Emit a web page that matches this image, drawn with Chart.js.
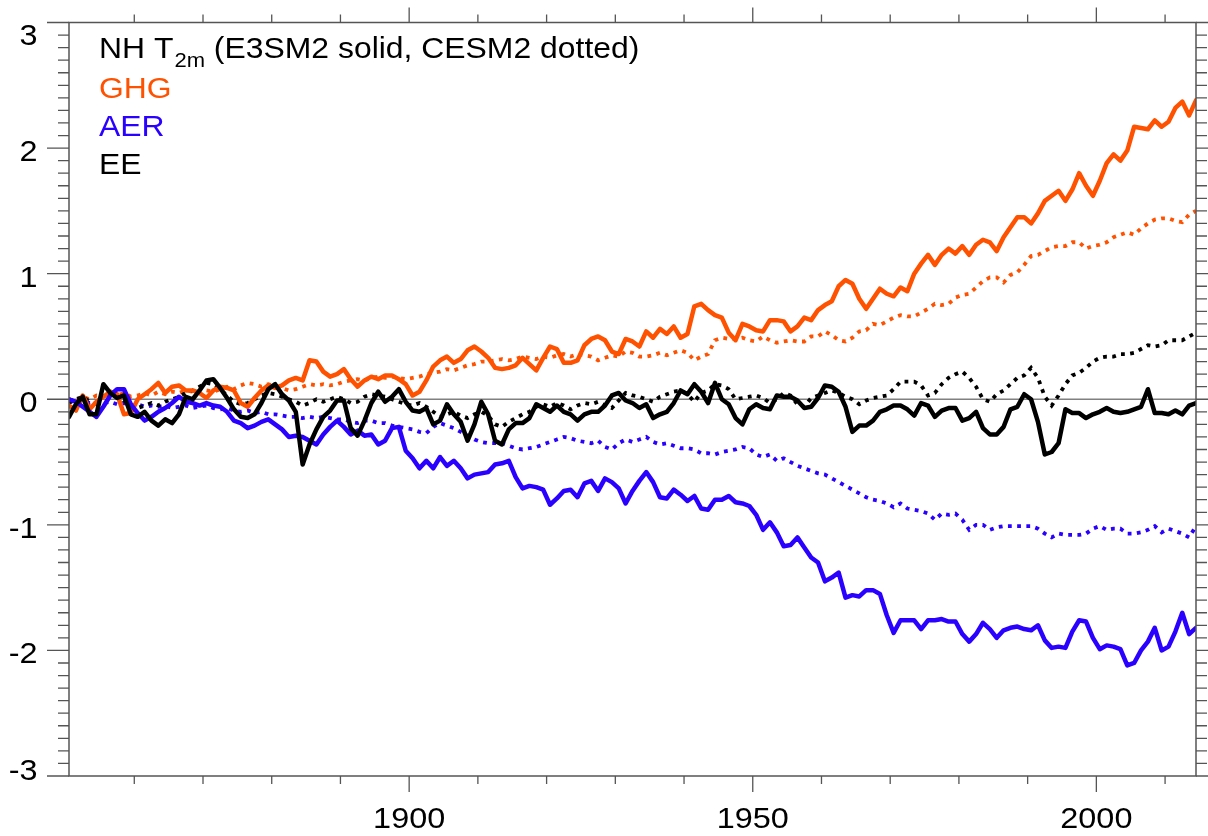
<!DOCTYPE html>
<html>
<head>
<meta charset="utf-8">
<script src="https://cdn.jsdelivr.net/npm/chart.js@4/dist/chart.umd.min.js"></script>
<style>
  html, body { margin: 0; padding: 0; background: #ffffff; }
  #wrap { width: 1208px; height: 836px; }
</style>
</head>
<body>
<div id="wrap"><canvas id="c" width="1208" height="836"></canvas></div>
<script>
// Northern-hemisphere 2 m temperature anomaly (K), annual means centred mid-year, 1850-2014
const FIRST_YEAR = 1850.5;

// E3SM2 single-forcing runs (solid)
const ghgE3SM = [
  -0.05, -0.09, 0.03, -0.08, -0.02, 0.02, 0.06, 0.04, -0.12, -0.11,
  0.00, 0.04, 0.08, 0.13, 0.05, 0.10, 0.11, 0.07, 0.07, 0.05,
  0.01, 0.07, 0.10, 0.09, 0.07, -0.03, -0.06, 0.01, 0.07, 0.11,
  0.09, 0.11, 0.15, 0.17, 0.15, 0.31, 0.30, 0.22, 0.18, 0.20,
  0.24, 0.16, 0.10, 0.15, 0.18, 0.16, 0.19, 0.19, 0.16, 0.12,
  0.03, 0.06, 0.15, 0.26, 0.31, 0.34, 0.29, 0.32, 0.39, 0.42,
  0.38, 0.33, 0.25, 0.24, 0.25, 0.27, 0.33, 0.28, 0.23, 0.33,
  0.42, 0.40, 0.29, 0.29, 0.31, 0.43, 0.48, 0.50, 0.47, 0.38,
  0.36, 0.48, 0.46, 0.42, 0.54, 0.49, 0.56, 0.52, 0.58, 0.49,
  0.52, 0.74, 0.76, 0.71, 0.67, 0.65, 0.53, 0.47, 0.60, 0.58,
  0.55, 0.54, 0.63, 0.63, 0.62, 0.54, 0.58, 0.65, 0.63, 0.71,
  0.75, 0.78, 0.90, 0.95, 0.92, 0.80, 0.72, 0.80, 0.88, 0.84,
  0.82, 0.89, 0.86, 1.00, 1.08, 1.15, 1.07, 1.15, 1.20, 1.16,
  1.22, 1.15, 1.23, 1.27, 1.25, 1.18, 1.29, 1.37, 1.45, 1.45,
  1.40, 1.48, 1.58, 1.62, 1.66, 1.58, 1.67, 1.80, 1.70, 1.62,
  1.74, 1.88, 1.95, 1.90, 1.98, 2.17, 2.16, 2.15, 2.22, 2.17,
  2.21, 2.32, 2.37, 2.26, 2.38
];
const aerE3SM = [
  0.00, -0.02, -0.06, -0.10, -0.14, -0.06, 0.03, 0.08, 0.08, -0.04,
  -0.11, -0.17, -0.14, -0.10, -0.07, -0.03, 0.02, -0.02, -0.03, -0.05,
  -0.03, -0.05, -0.06, -0.10, -0.17, -0.19, -0.23, -0.21, -0.18, -0.16,
  -0.20, -0.24, -0.30, -0.29, -0.30, -0.33, -0.36, -0.28, -0.22, -0.17,
  -0.22, -0.28, -0.25, -0.29, -0.28, -0.36, -0.33, -0.23, -0.22, -0.41,
  -0.47, -0.55, -0.49, -0.55, -0.46, -0.53, -0.49, -0.55, -0.63, -0.60,
  -0.59, -0.58, -0.52, -0.51, -0.49, -0.62, -0.71, -0.69, -0.70, -0.72,
  -0.84, -0.79, -0.73, -0.72, -0.78, -0.67, -0.65, -0.73, -0.63, -0.66,
  -0.71, -0.83, -0.73, -0.65, -0.58, -0.66, -0.78, -0.79, -0.72, -0.76,
  -0.81, -0.77, -0.87, -0.88, -0.80, -0.80, -0.77, -0.82, -0.83, -0.85,
  -0.92, -1.04, -0.98, -1.06, -1.17, -1.16, -1.10, -1.18, -1.26, -1.30,
  -1.45, -1.42, -1.38, -1.58, -1.56, -1.57, -1.52, -1.52, -1.55, -1.72,
  -1.86, -1.76, -1.76, -1.76, -1.83, -1.76, -1.76, -1.75, -1.77, -1.77,
  -1.87, -1.93, -1.87, -1.78, -1.83, -1.90, -1.84, -1.82, -1.81, -1.83,
  -1.84, -1.80, -1.92, -1.98, -1.97, -1.98, -1.85, -1.76, -1.77, -1.90,
  -1.99, -1.96, -1.97, -1.99, -2.12, -2.10, -2.00, -1.93, -1.82, -2.00,
  -1.97, -1.85, -1.70, -1.87, -1.82
];
const eeE3SM = [
  -0.14, -0.04, 0.02, -0.12, -0.12, 0.12, 0.05, 0.01, 0.03, -0.12,
  -0.14, -0.10, -0.17, -0.21, -0.16, -0.19, -0.12, 0.02, 0.00, 0.07,
  0.15, 0.16, 0.09, 0.01, -0.08, -0.14, -0.15, -0.12, -0.03, 0.08,
  0.12, 0.04, -0.01, -0.10, -0.52, -0.36, -0.24, -0.14, -0.09, -0.01,
  -0.01, -0.23, -0.29, -0.17, -0.03, 0.06, -0.02, 0.02, 0.08, -0.02,
  -0.09, -0.10, -0.07, -0.20, -0.17, -0.04, -0.12, -0.18, -0.33, -0.20,
  -0.02, -0.12, -0.33, -0.36, -0.24, -0.19, -0.19, -0.15, -0.04, -0.07,
  -0.10, -0.05, -0.10, -0.12, -0.17, -0.12, -0.10, -0.10, -0.05, 0.03,
  0.05, -0.01, -0.03, -0.07, -0.04, -0.15, -0.12, -0.10, -0.03, 0.07,
  0.04, 0.12, 0.06, -0.03, 0.13, 0.00, -0.04, -0.15, -0.20, -0.08,
  -0.04, -0.07, -0.08, 0.03, 0.02, 0.02, -0.01, -0.07, -0.06, 0.01,
  0.11, 0.10, 0.06, -0.06, -0.26, -0.21, -0.21, -0.17, -0.10, -0.08,
  -0.05, -0.05, -0.08, -0.13, -0.03, -0.05, -0.14, -0.09, -0.07, -0.07,
  -0.17, -0.15, -0.10, -0.23, -0.28, -0.28, -0.22, -0.08, -0.06, 0.04,
  0.00, -0.18, -0.44, -0.42, -0.35, -0.08, -0.11, -0.11, -0.15, -0.12,
  -0.10, -0.07, -0.10, -0.11, -0.10, -0.08, -0.06, 0.08, -0.11, -0.11,
  -0.12, -0.09, -0.12, -0.05, -0.03
];

// CESM2 single-forcing runs (dotted)
const ghgCESM = [
  0.00, -0.02, 0.02, 0.00, 0.03, 0.02, 0.04, 0.03, 0.05, 0.02,
  0.03, 0.05, 0.03, 0.06, 0.04, 0.06, 0.05, 0.07, 0.06, 0.05,
  0.07, 0.06, 0.08, 0.10, 0.08, 0.11, 0.13, 0.12, 0.10, 0.12,
  0.10, 0.09, 0.07, 0.08, 0.10, 0.12, 0.11, 0.12, 0.11, 0.12,
  0.14, 0.15, 0.16, 0.15, 0.17, 0.18, 0.17, 0.18, 0.17, 0.16,
  0.17, 0.18, 0.20, 0.21, 0.22, 0.24, 0.23, 0.25, 0.27, 0.28,
  0.30, 0.30, 0.31, 0.32, 0.31, 0.32, 0.34, 0.33, 0.32, 0.34,
  0.33, 0.35, 0.36, 0.34, 0.36, 0.35, 0.34, 0.31, 0.33, 0.35,
  0.34, 0.38, 0.37, 0.34, 0.34, 0.35, 0.37, 0.35, 0.37, 0.39,
  0.37, 0.31, 0.34, 0.36, 0.47, 0.49, 0.48, 0.48, 0.49, 0.47,
  0.46, 0.50, 0.47, 0.45, 0.46, 0.47, 0.46, 0.46, 0.50, 0.50,
  0.54, 0.51, 0.47, 0.46, 0.49, 0.54, 0.55, 0.60, 0.59, 0.62,
  0.65, 0.67, 0.66, 0.66, 0.69, 0.72, 0.76, 0.75, 0.76, 0.81,
  0.83, 0.84, 0.89, 0.94, 0.97, 0.97, 0.93, 0.99, 1.01, 1.07,
  1.14, 1.15, 1.18, 1.21, 1.22, 1.22, 1.25, 1.25, 1.20, 1.22,
  1.23, 1.25, 1.29, 1.31, 1.33, 1.31, 1.36, 1.40, 1.43, 1.44,
  1.44, 1.42, 1.41, 1.47, 1.50
];
const aerCESM = [
  0.00, -0.02, -0.01, -0.03, -0.02, -0.03, -0.02, -0.04, -0.03, -0.05,
  -0.04, -0.06, -0.05, -0.06, -0.05, -0.07, -0.06, -0.05, -0.07, -0.06,
  -0.05, -0.07, -0.08, -0.07, -0.09, -0.10, -0.09, -0.11, -0.10, -0.12,
  -0.12, -0.13, -0.14, -0.14, -0.15, -0.14, -0.15, -0.14, -0.15, -0.16,
  -0.16, -0.18, -0.19, -0.17, -0.17, -0.19, -0.19, -0.21, -0.22, -0.23,
  -0.24, -0.26, -0.27, -0.22, -0.19, -0.21, -0.23, -0.26, -0.29, -0.32,
  -0.34, -0.35, -0.35, -0.35, -0.37, -0.39, -0.40, -0.39, -0.38, -0.36,
  -0.34, -0.32, -0.30, -0.31, -0.33, -0.34, -0.35, -0.33, -0.38, -0.40,
  -0.35, -0.32, -0.34, -0.32, -0.30, -0.34, -0.36, -0.35, -0.37, -0.39,
  -0.39, -0.40, -0.43, -0.43, -0.44, -0.42, -0.41, -0.40, -0.38, -0.39,
  -0.44, -0.46, -0.44, -0.49, -0.47, -0.50, -0.53, -0.55, -0.57, -0.59,
  -0.60, -0.63, -0.66, -0.69, -0.72, -0.75, -0.78, -0.80, -0.81, -0.83,
  -0.86, -0.83, -0.87, -0.88, -0.89, -0.91, -0.96, -0.91, -0.92, -0.91,
  -0.96, -1.04, -1.00, -1.00, -1.04, -1.02, -1.01, -1.01, -1.01, -1.01,
  -1.01, -1.03, -1.07, -1.10, -1.07, -1.08, -1.08, -1.08, -1.07, -1.03,
  -1.01, -1.04, -1.03, -1.03, -1.07, -1.07, -1.06, -1.04, -1.01, -1.06,
  -1.03, -1.05, -1.07, -1.10, -1.01
];
const eeCESM = [
  -0.03, 0.00, 0.02, -0.02, -0.04, 0.03, 0.05, 0.02, -0.01, -0.05,
  -0.07, -0.05, -0.03, -0.05, -0.02, 0.00, 0.02, 0.05, 0.07, 0.10,
  0.13, 0.12, 0.08, 0.03, -0.02, -0.04, -0.03, 0.00, 0.03, 0.05,
  0.04, 0.02, 0.00, -0.02, -0.05, -0.03, 0.00, -0.02, 0.00, 0.02,
  0.00, -0.03, -0.02, 0.02, 0.04, 0.03, 0.02, 0.00, -0.02, -0.04,
  -0.05, -0.03, -0.06, -0.10, -0.14, -0.12, -0.10, -0.13, -0.15, -0.12,
  -0.10, -0.13, -0.20, -0.22, -0.18, -0.15, -0.12, -0.10, -0.06, -0.04,
  -0.06, -0.03, -0.05, -0.08, -0.05, -0.03, -0.04, -0.02, -0.05, -0.07,
  -0.01, 0.05, 0.03, 0.02, 0.00, -0.02, 0.02, 0.04, 0.06, 0.07,
  0.04, -0.02, 0.05, 0.07, 0.12, 0.11, 0.08, 0.00, 0.01, 0.02,
  0.03, 0.01, -0.03, 0.00, 0.05, 0.03, -0.04, -0.06, 0.01, 0.03,
  0.05, 0.07, 0.05, 0.02, 0.00, -0.04, -0.01, 0.01, 0.02, 0.03,
  0.08, 0.14, 0.14, 0.14, 0.11, 0.03, 0.05, 0.12, 0.17, 0.20,
  0.22, 0.17, 0.10, 0.00, -0.02, 0.04, 0.07, 0.12, 0.17, 0.19,
  0.25, 0.17, 0.02, -0.05, 0.03, 0.12, 0.19, 0.21, 0.25, 0.30,
  0.33, 0.34, 0.34, 0.36, 0.36, 0.37, 0.40, 0.43, 0.42, 0.43,
  0.47, 0.47, 0.47, 0.50, 0.53
];

// Axis ticks and labels
const X_MIN = 1850.5, X_MAX = 2014.5;
const Y_MIN = -3, Y_MAX = 3;
const xMajorTicks = [1900, 1950, 2000];
const xMinorTicks = [1860, 1870, 1880, 1890, 1910, 1920, 1930, 1940, 1960, 1970, 1980, 1990, 2010];
const yMajorTicks = [-3, -2, -1, 0, 1, 2, 3];
const yTickLabels = ['-3', '-2', '-1', '0', '1', '2', '3'];
const xTickLabels = ['1900', '1950', '2000'];

// Legend text
const titleMain = 'NH T';
const titleSub = '2m';
const titleRest = ' (E3SM2 solid, CESM2 dotted)';
const legendLabels = ['GHG', 'AER', 'EE'];

const ORANGE = '#ff5200';
const BLUE = '#2a00ff';
const BLACK = '#000000';
const legendColors = [ORANGE, BLUE, BLACK];

const FONT = '"Liberation Sans", Arial, Helvetica, sans-serif';

function toPoints(values) {
  return values.map((v, i) => ({ x: FIRST_YEAR + i, y: v }));
}

function drawWideText(ctx, str, x, y, size, sx, align, color) {
  ctx.save();
  ctx.font = size + 'px ' + FONT;
  ctx.fillStyle = color;
  ctx.textAlign = align;
  ctx.textBaseline = 'alphabetic';
  ctx.translate(x, y);
  ctx.scale(sx, 1);
  ctx.fillText(str, 0, 0);
  const w = ctx.measureText(str).width * sx;
  ctx.restore();
  return w;
}

const framePlugin = {
  id: 'ncarFrame',
  beforeDatasetsDraw(chart) {
    const { ctx, chartArea: a, scales: { y } } = chart;
    const y0 = y.getPixelForValue(0);
    ctx.save();
    ctx.strokeStyle = '#808080';
    ctx.lineWidth = 1.6;
    ctx.beginPath();
    ctx.moveTo(a.left, y0);
    ctx.lineTo(a.right, y0);
    ctx.stroke();
    ctx.restore();
  },
  afterDatasetsDraw(chart) {
    const { ctx, chartArea: a, scales: { x, y } } = chart;
    ctx.save();
    ctx.strokeStyle = '#555555';
    ctx.lineWidth = 1.5;
    ctx.strokeRect(a.left, a.top, a.right - a.left, a.bottom - a.top);

    ctx.lineWidth = 1.3;
    ctx.beginPath();
    // y ticks: majors every 1, minors every 0.1, pointing outward on both sides
    for (let k = 0; k < yMajorTicks.length; k++) {
      const v = yMajorTicks[k];
      const py = y.getPixelForValue(v);
      ctx.moveTo(a.left - 22, py); ctx.lineTo(a.left, py);
      ctx.moveTo(a.right, py); ctx.lineTo(a.right + 22, py);
      if (k < yMajorTicks.length - 1) {
        for (let m = 1; m < 10; m++) {
          const pm = y.getPixelForValue(v + m / 10);
          ctx.moveTo(a.left - 11, pm); ctx.lineTo(a.left, pm);
          ctx.moveTo(a.right, pm); ctx.lineTo(a.right + 11, pm);
        }
      }
    }
    // x ticks, outward on top and bottom
    xMajorTicks.forEach(v => {
      const px = x.getPixelForValue(v);
      ctx.moveTo(px, a.bottom); ctx.lineTo(px, a.bottom + 16);
      ctx.moveTo(px, a.top); ctx.lineTo(px, a.top - 15);
    });
    xMinorTicks.forEach(v => {
      const px = x.getPixelForValue(v);
      ctx.moveTo(px, a.bottom); ctx.lineTo(px, a.bottom + 8);
      ctx.moveTo(px, a.top); ctx.lineTo(px, a.top - 8);
    });
    ctx.stroke();
    ctx.restore();

    // tick labels
    yMajorTicks.forEach((v, k) => {
      let py = y.getPixelForValue(v);
      py = Math.min(Math.max(py, a.top + 9), a.bottom - 9);
      drawWideText(ctx, yTickLabels[k], 37.5, py + 13, 30, 1.08, 'right', '#000');
    });
    xMajorTicks.forEach((v, k) => {
      const px = x.getPixelForValue(v);
      drawWideText(ctx, xTickLabels[k], px, a.bottom + 52, 30, 1.08, 'center', '#000');
    });

    // legend block
    const lx = 99;
    let cx = lx;
    cx += drawWideText(ctx, titleMain, cx, 57.5, 29, 1.1, 'left', BLACK);
    cx += 1;
    cx += drawWideText(ctx, titleSub, cx, 66.5, 20, 1.1, 'left', BLACK);
    drawWideText(ctx, titleRest, cx, 57.5, 29, 1.1, 'left', BLACK);
    const rows = [97.5, 136, 173.5];
    legendLabels.forEach((t, k) => {
      drawWideText(ctx, t, lx, rows[k], 29, 1.1, 'left', legendColors[k]);
    });
  }
};

const solid = (data, color, order) => ({
  data: toPoints(data), borderColor: color, borderWidth: 4.5,
  borderJoinStyle: 'round', borderCapStyle: 'round',
  pointRadius: 0, tension: 0, fill: false, order
});
const dotted = (data, color, order) => ({
  data: toPoints(data), borderColor: color, borderWidth: 3.8,
  borderDash: [3.8, 5.4], borderCapStyle: 'butt',
  pointRadius: 0, tension: 0, fill: false, order
});

new Chart(document.getElementById('c'), {
  type: 'line',
  data: {
    datasets: [
      solid(eeE3SM, BLACK, 0),
      solid(aerE3SM, BLUE, 1),
      solid(ghgE3SM, ORANGE, 2),
      dotted(eeCESM, BLACK, 3),
      dotted(aerCESM, BLUE, 4),
      dotted(ghgCESM, ORANGE, 5)
    ]
  },
  options: {
    responsive: false,
    animation: false,
    devicePixelRatio: 1,
    layout: { padding: { left: 69, right: 12, top: 22.5, bottom: 60 } },
    plugins: { legend: { display: false }, tooltip: { enabled: false } },
    scales: {
      x: { type: 'linear', min: X_MIN, max: X_MAX, display: false },
      y: { type: 'linear', min: Y_MIN, max: Y_MAX, display: false }
    }
  },
  plugins: [framePlugin]
});
</script>
</body>
</html>
